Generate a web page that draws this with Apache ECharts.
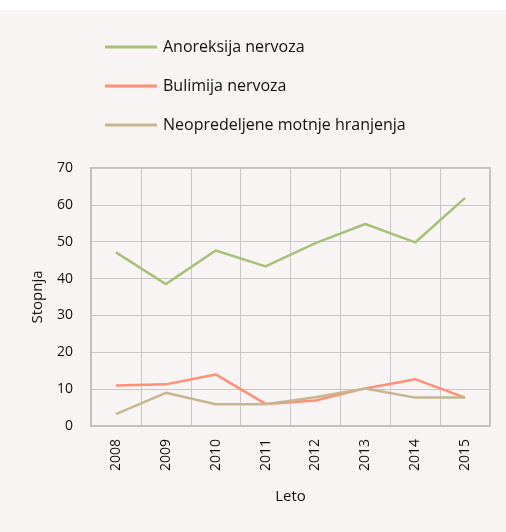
<!DOCTYPE html>
<html>
<head>
<meta charset="utf-8">
<script src="https://cdn.jsdelivr.net/npm/echarts@6/dist/echarts.min.js"></script>
<style>
  html, body { margin: 0; padding: 0; background: #ffffff; }
  #chart { position: absolute; left: 0; top: 10px; width: 506px; height: 522px; background: #f7f4f3; }
</style>
</head>
<body>
<div id="chart"></div>
<script>
// Years on the category axis
const years = ['2008', '2009', '2010', '2011', '2012', '2013', '2014', '2015'];

// Rates per year for each eating disorder
const anoreksija = [47.1, 38.5, 47.6, 43.3, 49.6, 54.8, 49.8, 61.9];
const bulimija = [11.0, 11.3, 14.0, 6.0, 6.9, 10.2, 12.7, 7.7];
const neopredeljene = [3.2, 9.0, 5.9, 5.9, 7.8, 10.2, 7.7, 7.7];

const seriesNames = ['Anoreksija nervoza', 'Bulimija nervoza', 'Neopredeljene motnje hranjenja'];
const seriesColors = ['#a8c07a', '#ff8f77', '#c6b690'];

const FONT = 'Open Sans';
const TEXT = '#111111';

const chart = echarts.init(document.getElementById('chart'), null, { renderer: 'canvas' });

function lineSeries(name, data, color) {
  return {
    name: name,
    type: 'line',
    data: data,
    symbol: 'none',
    lineStyle: { color: color, width: 2.5 },
    itemStyle: { color: color },
    z: 3
  };
}

chart.setOption({
  backgroundColor: '#f7f4f3',
  animation: false,
  textStyle: { fontFamily: FONT, color: TEXT },
  legend: {
    orient: 'vertical',
    left: 105,
    top: 29,
    padding: 0,
    icon: 'rect',
    itemWidth: 52,
    itemHeight: 3,
    itemGap: 23,
    textStyle: { fontFamily: FONT, fontSize: 16, color: TEXT, padding: [0, 0, 0, 1] },
    data: seriesNames
  },
  grid: {
    left: 91,
    top: 158,
    width: 399,
    height: 258,
    show: true,
    borderColor: '#c2c2c2',
    borderWidth: 2,
    backgroundColor: 'transparent'
  },
  xAxis: {
    type: 'category',
    data: years,
    boundaryGap: true,
    name: 'Leto',
    nameLocation: 'middle',
    nameGap: 63,
    nameTextStyle: { fontFamily: FONT, fontSize: 15, color: TEXT },
    axisLine: { show: true, lineStyle: { color: '#c2c2c2', width: 2 } },
    axisTick: { show: false },
    axisLabel: { rotate: 90, margin: 13, fontFamily: FONT, fontSize: 14, color: TEXT },
    splitLine: { show: true, lineStyle: { color: '#c8c8c8', width: 1 } }
  },
  yAxis: {
    type: 'value',
    min: 0,
    max: 70,
    interval: 10,
    name: 'Stopnja',
    nameLocation: 'middle',
    nameGap: 46,
    nameTextStyle: { fontFamily: FONT, fontSize: 15, color: TEXT },
    axisLine: { show: true, lineStyle: { color: '#c2c2c2', width: 2 } },
    axisTick: { show: false },
    axisLabel: { margin: 18, fontFamily: FONT, fontSize: 14, color: TEXT },
    splitLine: { show: true, lineStyle: { color: '#c8c8c8', width: 1 } }
  },
  series: [
    lineSeries(seriesNames[0], anoreksija, seriesColors[0]),
    lineSeries(seriesNames[1], bulimija, seriesColors[1]),
    lineSeries(seriesNames[2], neopredeljene, seriesColors[2])
  ]
});
</script>
</body>
</html>
